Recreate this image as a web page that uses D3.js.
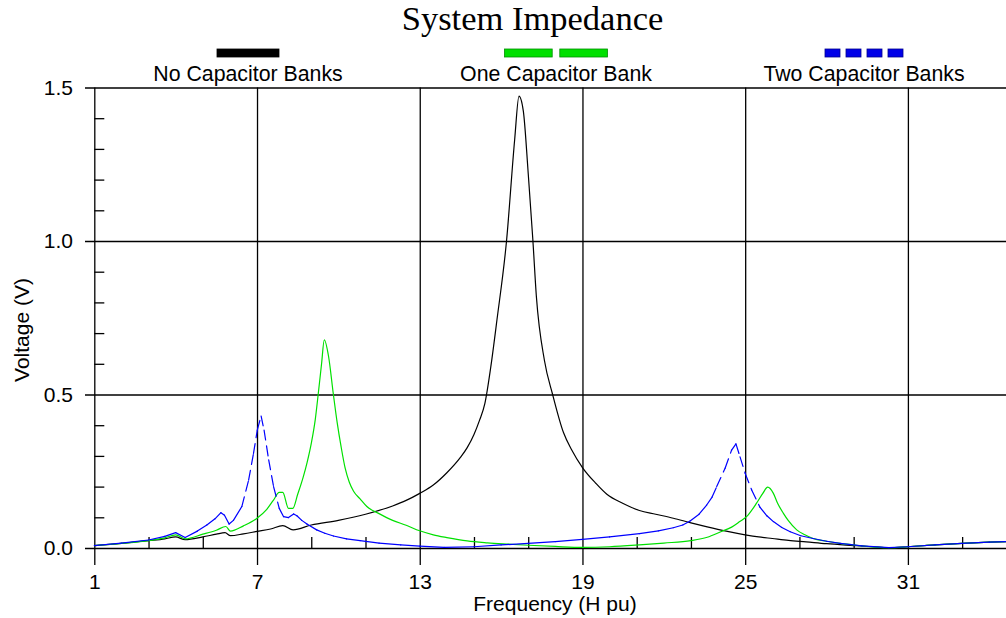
<!DOCTYPE html>
<html>
<head>
<meta charset="utf-8">
<script src="https://cdn.jsdelivr.net/npm/d3@7"></script>
<style>
  body { margin: 0; background: #fff; }
  svg { display: block; }
  text { font-family: "Liberation Sans", Arial, sans-serif; fill: #000; }
</style>
</head>
<body>
<svg id="chart" width="1006" height="618"></svg>
<script>
// data
const noCapFreq = [1, 2, 3, 3.6, 4, 4.35, 5, 5.5, 5.82, 6.02, 6.5, 7, 7.5, 7.95, 8.33, 9, 10, 11, 12, 12.5, 13, 13.5, 14, 14.5, 14.75, 15, 15.2, 15.4, 15.62, 15.85, 16.2, 16.5, 16.66, 16.82, 17, 17.17, 17.3, 17.6, 17.9, 18.3, 18.6, 19, 19.5, 19.9, 20.5, 21.1, 21.7, 22.35, 23, 23.6, 24.3, 25, 25.5, 26, 26.6, 27.25, 28, 29, 29.7, 30.3, 31, 32, 33, 34, 35];
const noCapVolt = [0.008, 0.015, 0.024, 0.03, 0.036, 0.027, 0.036, 0.045, 0.05, 0.04, 0.046, 0.054, 0.062, 0.073, 0.059, 0.075, 0.09, 0.11, 0.137, 0.155, 0.178, 0.205, 0.245, 0.295, 0.327, 0.37, 0.415, 0.47, 0.59, 0.745, 1.0, 1.33, 1.472, 1.423, 1.22, 1.005, 0.82, 0.61, 0.5, 0.376, 0.32, 0.262, 0.21, 0.175, 0.145, 0.122, 0.11, 0.097, 0.082, 0.069, 0.055, 0.043, 0.036, 0.031, 0.025, 0.02, 0.014, 0.008, 0.004, 0.001, 0.004, 0.01, 0.015, 0.019, 0.022];

const oneCapFreq = [1, 2, 3, 3.6, 4, 4.35, 5, 5.5, 5.85, 6.02, 6.5, 7, 7.36, 7.6, 7.82, 7.95, 8.16, 8.32, 8.5, 8.7, 8.85, 9.01, 9.15, 9.26, 9.38, 9.48, 9.64, 9.81, 9.96, 10.1, 10.25, 10.4, 10.56, 10.8, 11.05, 11.5, 12, 12.5, 13, 13.5, 14, 14.75, 15.5, 16.2, 17, 18, 19, 20, 21.1, 22, 23, 23.6, 24.1, 24.5, 24.8, 25.05, 25.42, 25.65, 25.83, 26.04, 26.2, 26.41, 26.6, 26.9, 27.2, 27.5, 28, 28.5, 29.2, 29.8, 30.3, 31, 32, 33, 34, 35];
const oneCapVolt = [0.008, 0.015, 0.024, 0.033, 0.043, 0.03, 0.045, 0.058, 0.07, 0.055, 0.072, 0.097, 0.126, 0.155, 0.181, 0.181, 0.129, 0.129, 0.175, 0.23, 0.28, 0.345, 0.42, 0.504, 0.6, 0.678, 0.623, 0.504, 0.406, 0.33, 0.26, 0.215, 0.185, 0.16, 0.135, 0.112, 0.09, 0.074, 0.056, 0.043, 0.034, 0.023, 0.017, 0.013, 0.009, 0.005, 0.002, 0.004, 0.01, 0.016, 0.024, 0.035, 0.053, 0.068, 0.086, 0.102, 0.146, 0.178, 0.198, 0.178, 0.145, 0.113, 0.088, 0.059, 0.043, 0.031, 0.022, 0.015, 0.008, 0.003, 0.001, 0.004, 0.01, 0.015, 0.019, 0.022];

const twoCapFreq = [1, 2, 3, 3.6, 4, 4.35, 4.8, 5.15, 5.45, 5.67, 5.8, 5.97, 6.13, 6.44, 6.69, 6.87, 7.01, 7.15, 7.26, 7.43, 7.61, 7.82, 7.98, 8.16, 8.35, 8.47, 8.65, 8.84, 9.2, 9.5, 9.82, 10.3, 10.8, 11.5, 12.3, 13, 13.9, 15, 16, 17, 18, 19, 20, 21.1, 21.8, 22.35, 22.7, 22.97, 23.3, 23.58, 23.78, 23.95, 24.26, 24.5, 24.66, 24.81, 25, 25.24, 25.55, 25.8, 26.04, 26.35, 26.66, 27.05, 27.5, 28, 28.5, 29.3, 30.3, 31, 32, 33, 34, 35];
const twoCapVolt = [0.008, 0.016, 0.026, 0.038, 0.05, 0.034, 0.055, 0.075, 0.095, 0.115, 0.107, 0.078, 0.09, 0.135, 0.221, 0.308, 0.384, 0.43, 0.384, 0.287, 0.2, 0.129, 0.102, 0.099, 0.111, 0.105, 0.09, 0.078, 0.059, 0.048, 0.039, 0.03, 0.024, 0.016, 0.01, 0.006, 0.002, 0.004, 0.01, 0.015, 0.021, 0.028, 0.036, 0.047, 0.056, 0.066, 0.075, 0.088, 0.11, 0.14, 0.166, 0.2, 0.26, 0.319, 0.339, 0.297, 0.243, 0.189, 0.132, 0.105, 0.086, 0.067, 0.053, 0.04, 0.031, 0.022, 0.015, 0.007, 0.001, 0.004, 0.01, 0.015, 0.019, 0.022];

const seriesNames = ['No Capacitor Banks', 'One Capacitor Bank', 'Two Capacitor Banks'];
const xMajorTicks = [1, 7, 13, 19, 25, 31];
const xMinorTicks = [3, 5, 9, 11, 15, 17, 21, 23, 27, 29, 33];
const yMajorTicks = [0, 0.5, 1.0, 1.5];
const yMinorTicks = [0.1, 0.2, 0.3, 0.4, 0.6, 0.7, 0.8, 0.9, 1.1, 1.2, 1.3, 1.4];

const svg = d3.select('#chart');
const W = 1006;
const plotLeft = 94.3, plotBottom = 548, plotTop = 87.5;

const x = d3.scaleLinear().domain([1, 35]).range([plotLeft, plotLeft + 34 * 27.12]);
const y = d3.scaleLinear().domain([0, 1.5]).range([plotBottom, plotTop]);

// title
svg.append('text')
    .attr('x', 532.5).attr('y', 30)
    .attr('text-anchor', 'middle')
    .style('font-family', '"Liberation Serif", "Times New Roman", serif')
    .style('font-size', '34.5px')
    .text('System Impedance');

// vertical grid + major x ticks (reach below the axis)
const xAxis = d3.axisBottom(x).tickValues(xMajorTicks).tickSize(-(565 - plotTop)).tickPadding(9).tickFormat(d3.format('d'));
const gx = svg.append('g').attr('transform', `translate(0,565)`).call(xAxis);
gx.select('.domain').remove();
gx.selectAll('line').attr('stroke', '#000').attr('stroke-width', 1.3);
gx.selectAll('text').style('font-size', '21px').attr('fill', '#000');

// horizontal grid + major y ticks
const yAxis = d3.axisLeft(y).tickValues(yMajorTicks).tickSize(-(W - 85)).tickPadding(12).tickFormat(d3.format('.1f'));
const gy = svg.append('g').attr('transform', `translate(85,0)`).call(yAxis);
gy.select('.domain').remove();
gy.selectAll('line').attr('stroke', '#000').attr('stroke-width', 1.3);
gy.selectAll('text').style('font-size', '21px').attr('fill', '#000');

// minor ticks
const gxm = svg.append('g').attr('transform', `translate(0,${plotBottom})`)
    .call(d3.axisBottom(x).tickValues(xMinorTicks).tickSize(-11).tickFormat(''));
gxm.select('.domain').remove();
gxm.selectAll('line').attr('stroke', '#000').attr('stroke-width', 1.3);

const gym = svg.append('g').attr('transform', `translate(${plotLeft},0)`)
    .call(d3.axisLeft(y).tickValues(yMinorTicks).tickSize(-10).tickFormat(''));
gym.select('.domain').remove();
gym.selectAll('line').attr('stroke', '#000').attr('stroke-width', 1.3);

// axis titles
svg.append('text')
    .attr('x', 555).attr('y', 611)
    .attr('text-anchor', 'middle')
    .style('font-size', '21px')
    .text('Frequency (H pu)');

svg.append('text')
    .attr('transform', 'translate(29,330) rotate(-90)')
    .attr('text-anchor', 'middle')
    .style('font-size', '21px')
    .text('Voltage (V)');

// curves
const line = d3.line().curve(d3.curveMonotoneX).x(d => x(d[0])).y(d => y(d[1]));
const toPts = (fs, vs) => fs.map((f, i) => [f, vs[i]]);

svg.append('path')
    .attr('d', line(toPts(noCapFreq, noCapVolt)))
    .attr('fill', 'none').attr('stroke', '#000').attr('stroke-width', 1.2);

svg.append('path')
    .attr('d', line(toPts(oneCapFreq, oneCapVolt)))
    .attr('fill', 'none').attr('stroke', '#00e000').attr('stroke-width', 1.2);

// blue: dash pattern restarts on every segment, so only steep segments look dashed
const bluePx = toPts(twoCapFreq, twoCapVolt).map(d => [x(d[0]), y(d[1])]);
svg.append('g').selectAll('line')
    .data(d3.pairs(bluePx))
    .enter()
    .append('line')
    .attr('x1', d => d[0][0]).attr('y1', d => d[0][1])
    .attr('x2', d => d[1][0]).attr('y2', d => d[1][1])
    .attr('stroke', '#0000ff').attr('stroke-width', 1.2)
    .attr('stroke-linecap', 'round')
    .attr('stroke-dasharray', d => {
        const slope = Math.abs((d[1][1] - d[0][1]) / (d[1][0] - d[0][0]));
        return slope > 2 ? '10,6' : null;
    });

// legend
const legendCx = [248, 556, 864];
const legendSwatches = [
    {w: 62, dash: 62, gap: 0, fill: '#000', stroke: '#000'},
    {w: 103, dash: 47.7, gap: 7.6, fill: '#00e000', stroke: '#009000'},
    {w: 78, dash: 15, gap: 6, fill: '#0000e8', stroke: '#000090'}
];
const legend = svg.append('g');
seriesNames.forEach((name, i) => {
    const sw = legendSwatches[i];
    const x0 = legendCx[i] - sw.w / 2;
    const starts = d3.range(x0, x0 + sw.w - 1, sw.dash + sw.gap);
    legend.selectAll(null)
        .data(starts)
        .enter()
        .append('rect')
        .attr('x', d => d).attr('y', 49)
        .attr('width', sw.dash).attr('height', 8)
        .attr('fill', sw.fill)
        .attr('stroke', sw.stroke).attr('stroke-width', 0.8);
    legend.append('text')
        .attr('x', legendCx[i]).attr('y', 81)
        .attr('text-anchor', 'middle')
        .style('font-size', '21.3px')
        .text(name);
});
</script>
</body>
</html>
